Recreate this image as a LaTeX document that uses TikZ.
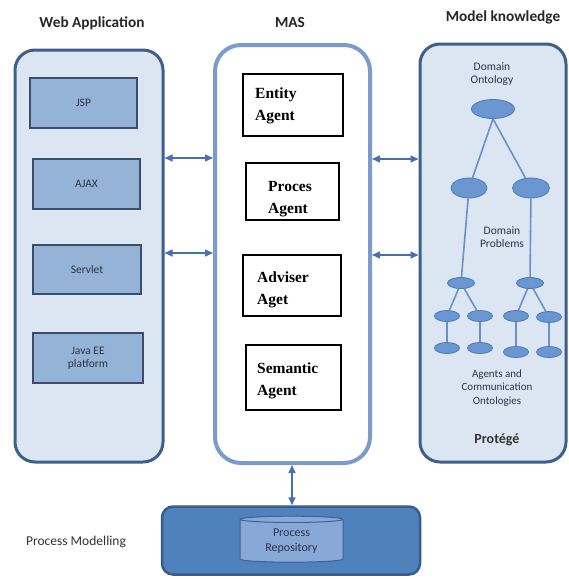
\documentclass[tikz,border=0pt]{standalone}
\usepackage{fontspec}
\setmainfont{Carlito}
\newfontfamily\agentfont{Liberation Serif}
\usetikzlibrary{arrows.meta,shapes.geometric}

\definecolor{panelfill}{HTML}{DCE6F2}
\definecolor{paneldraw}{HTML}{3E5F8A}
\definecolor{techfill}{HTML}{95B3D7}
\definecolor{techdraw}{HTML}{3A4E6B}
\definecolor{masdraw}{HTML}{7B9BCB}
\definecolor{linkcol}{HTML}{4A6FAF}
\definecolor{ontofill}{HTML}{6A96D2}
\definecolor{ontodraw}{HTML}{4C79B8}
\definecolor{treecol}{HTML}{6D8FC3}
\definecolor{procfill}{HTML}{4F81BD}
\definecolor{procdraw}{HTML}{385D8A}
\definecolor{cylfill}{HTML}{88A8D8}
\definecolor{cyldraw}{HTML}{41618F}
\definecolor{smalltext}{HTML}{2A3448}

\begin{document}
\begin{tikzpicture}[x=1pt,y=-1pt,
  panel/.style={draw=paneldraw, line width=3pt, fill=panelfill,
    rounded corners=20pt, inner sep=0pt},
  techbox/.style={draw=techdraw, line width=1.4pt, fill=techfill,
    inner sep=0pt, align=center, text=smalltext,
    font=\fontsize{11.5}{13.5}\selectfont},
  agentbox/.style={draw=black, line width=1.2pt, fill=white, inner sep=0pt},
  agenttext/.style={anchor=west, align=left, inner sep=0pt,
    font=\agentfont\bfseries\fontsize{15.5}{22}\selectfont},
  heading/.style={font=\bfseries\fontsize{15.3}{18}\selectfont, text=black!85},
  smalllabel/.style={align=center, text=smalltext, inner sep=0pt,
    font=\fontsize{11.5}{13.8}\selectfont},
  link/.style={draw=linkcol, line width=1.5pt,
    {Triangle[length=8pt,width=7pt]}-{Triangle[length=8pt,width=7pt]}},
  onto/.style={ellipse, draw=ontodraw, line width=0.8pt, fill=ontofill, inner sep=0pt},
  branch/.style={draw=treecol, line width=1.6pt}
]
\useasboundingbox (0,0) rectangle (569,579);
\fill[white] (0,0) rectangle (569,579);

% headings
\node[heading] (hweb) at (92,23) {Web Application};
\node[heading] (hmas) at (290,23) {MAS};
\node[heading] (hmodel) at (503,17) {Model knowledge};

% three columns
\node[panel, minimum width=148pt, minimum height=412pt] (web) at (89,256) {};
\node[draw=masdraw, line width=4pt, fill=white, rounded corners=26pt,
      inner sep=0pt, minimum width=155pt, minimum height=418pt] (mas) at (292.5,254) {};
\node[panel, minimum width=146pt, minimum height=418pt] (model) at (493,253) {};

% web application technologies
\node[techbox, minimum width=107pt, minimum height=50pt] (jsp) at (83.5,103) {JSP};
\node[techbox, minimum width=107pt, minimum height=50pt] (ajax) at (86.5,184) {AJAX};
\node[techbox, minimum width=108pt, minimum height=49pt] (servlet) at (87,269.5) {Servlet};
\node[techbox, minimum width=110pt, minimum height=50pt] (javaee) at (88,358) {Java EE\\platform};

% agents
\node[agentbox, minimum width=100pt, minimum height=62pt] (entity) at (293,105) {};
\node[agentbox, minimum width=93pt, minimum height=57pt] (proces) at (292.5,191.5) {};
\node[agentbox, minimum width=98pt, minimum height=61pt] (adviser) at (292,285.5) {};
\node[agentbox, minimum width=95pt, minimum height=65pt] (semantic) at (293.5,377.5) {};
\node[agenttext] (tentity) at (255,106) {Entity\\Agent};
\node[agenttext] (tproces) at (268,199) {Proces\\Agent};
\node[agenttext] (tadviser) at (257,290) {Adviser\\Aget};
\node[agenttext] (tsemantic) at (257,381) {Semantic\\Agent};

% ontology tree
\node[smalllabel] (ldomain) at (492,74) {Domain\\Ontology};
\node[onto, minimum width=43pt, minimum height=19pt] (t0) at (493,109) {};
\node[onto, minimum width=36pt, minimum height=20pt] (t1a) at (469,188) {};
\node[onto, minimum width=37pt, minimum height=20pt] (t1b) at (531,188) {};
\node[smalllabel] (lproblems) at (502,237) {Domain\\Problems};
\node[onto, minimum width=27pt, minimum height=11pt] (t2a) at (461,283) {};
\node[onto, minimum width=27pt, minimum height=11pt] (t2b) at (530,283) {};
\node[onto, minimum width=25pt, minimum height=11pt] (t3a) at (447,316) {};
\node[onto, minimum width=25pt, minimum height=11pt] (t3b) at (480,316) {};
\node[onto, minimum width=25pt, minimum height=11pt] (t3c) at (516,316) {};
\node[onto, minimum width=25pt, minimum height=11pt] (t3d) at (549,317) {};
\node[onto, minimum width=25pt, minimum height=11pt] (t4a) at (447,348) {};
\node[onto, minimum width=25pt, minimum height=11pt] (t4b) at (480,348) {};
\node[onto, minimum width=25pt, minimum height=11pt] (t4c) at (516,352) {};
\node[onto, minimum width=25pt, minimum height=11pt] (t4d) at (549,352) {};
\node[smalllabel, font=\fontsize{11}{13.5}\selectfont] (lagents) at (497,388) {Agents and\\Communication\\Ontologies};
\node[font=\bfseries\fontsize{14}{16}\selectfont, text=black!80] (protege) at (497,440) {Protégé};

% tree branches
\draw[branch] (t0.south) -- (t1a);
\draw[branch] (t0.south) -- (t1b);
\draw[branch] (t1a) -- (t2a);
\draw[branch] (t1b) -- (t2b);
\draw[branch] (t2a) -- (t3a);
\draw[branch] (t2a) -- (t3b);
\draw[branch] (t2b) -- (t3c);
\draw[branch] (t2b) -- (t3d);
\draw[branch] (t3a) -- (t4a);
\draw[branch] (t3b) -- (t4b);
\draw[branch] (t3c) -- (t4c);
\draw[branch] (t3d) -- (t4d);

% process modelling
\node[draw=procdraw, line width=2.5pt, fill=procfill, rounded corners=11pt,
      inner sep=0pt, minimum width=258pt, minimum height=68pt] (procbox) at (291,540.5) {};
\node[cylinder, shape border rotate=90, aspect=0.12, draw=cyldraw, line width=1pt,
      fill=cylfill, inner sep=0pt, minimum width=103pt, minimum height=46pt,
      align=center, text=smalltext, font=\fontsize{12}{15}\selectfont]
      (repo) at (291.5,541) {Process\\Repository};
\node[font=\fontsize{13.5}{16}\selectfont, text=black!80] (lprocess) at (76,542) {Process Modelling};

% connectors
\draw[link] (web.east |- 0,158) -- (mas.west |- 0,158);
\draw[link] (web.east |- 0,253) -- (mas.west |- 0,253);
\draw[link] (mas.east |- 0,159) -- (model.west |- 0,159);
\draw[link] (mas.east |- 0,255) -- (model.west |- 0,255);
\draw[link] (mas.south -| 292,0) -- (procbox.north -| 292,0);
\end{tikzpicture}
\end{document}
